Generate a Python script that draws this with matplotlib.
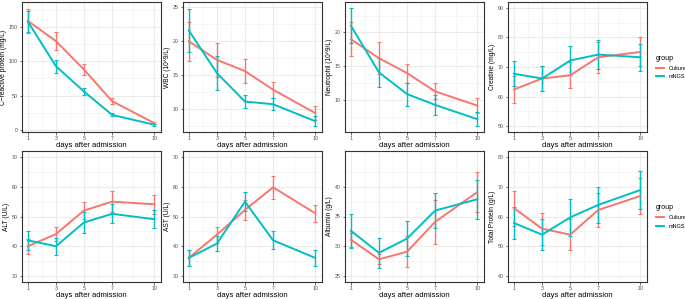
import matplotlib
matplotlib.use("Agg")
import matplotlib.pyplot as plt
from matplotlib.lines import Line2D
import numpy as np

days = [1, 3, 5, 7, 10]
groups = ["Culture", "mNGS"]
colors = {"Culture": "#F8766D", "mNGS": "#00BFC4"}

ylabels = ["C\u2212reactive protein (mg/L)", "WBC (10^9/L)", "Neutrophil (10^9/L)", "Creatine (mg/L)",
           "ALT (U/L)", "AST (U/L)", "Albumin (g/L)", "Total Protein (g/L)"]

crp_culture = [159, 129.5, 88, 42, 10]
crp_culture_err = [18, 13.5, 8, 4.5, 2]
crp_mngs = [158, 93, 56, 22, 7.6]
crp_mngs_err = [15, 9.5, 5, 2, 1.5]

wbc_culture = [20.0, 17.25, 15.6, 12.85, 9.4]
wbc_culture_err = [2.9, 2.5, 1.75, 1.2, 1.0]
wbc_mngs = [21.6, 15.3, 11.1, 10.7, 8.2]
wbc_mngs_err = [3.2, 2.5, 0.95, 0.85, 0.75]

neu_culture = [19.0, 16.2, 14.0, 11.3, 9.2]
neu_culture_err = [2.5, 2.4, 1.4, 1.2, 1.1]
neu_mngs = [21.0, 14.1, 10.9, 9.3, 7.2]
neu_mngs_err = [2.6, 2.1, 1.7, 1.45, 1.05]

cre_culture = [62.4, 66.1, 67.2, 73.3, 75.1]
cre_culture_err = [4.5, 4.2, 4.4, 5.2, 4.9]
cre_mngs = [67.7, 66.1, 72.2, 74.2, 73.3]
cre_mngs_err = [4.3, 4.3, 5.0, 4.8, 4.6]

alt_culture = [40.0, 44.1, 52.0, 55.0, 54.1]
alt_culture_err = [2.5, 2.4, 3.0, 3.6, 3.2]
alt_mngs = [42.0, 40.0, 48.0, 50.9, 49.1]
alt_mngs_err = [3.2, 2.8, 3.4, 3.2, 3.0]

ast_culture = [36.1, 43.9, 52.2, 59.8, 51.1]
ast_culture_err = [2.6, 2.7, 3.5, 3.8, 2.9]
ast_mngs = [36.1, 40.9, 55.0, 42.0, 36.1]
ast_mngs_err = [2.6, 2.4, 3.2, 3.0, 2.6]

alb_culture = [31.1, 27.8, 29.1, 34.1, 39.1]
alb_culture_err = [1.2, 0.85, 2.6, 3.75, 3.3]
alb_mngs = [32.6, 28.9, 31.3, 36.0, 37.9]
alb_mngs_err = [2.85, 2.55, 2.9, 3.0, 3.3]

tp_culture = [62.8, 55.9, 53.9, 62.2, 66.9]
tp_culture_err = [5.9, 5.4, 5.1, 5.6, 6.0]
tp_mngs = [57.8, 53.9, 59.7, 63.9, 68.9]
tp_mngs_err = [5.4, 5.2, 6.1, 6.1, 6.3]

panels = [
    (crp_culture, crp_culture_err, crp_mngs, crp_mngs_err, [0, 50, 100, 150], (-3, 186.5)),
    (wbc_culture, wbc_culture_err, wbc_mngs, wbc_mngs_err, [10, 15, 20, 25], (6.6, 25.8)),
    (neu_culture, neu_culture_err, neu_mngs, neu_mngs_err, [10, 15, 20], (5.3, 24.5)),
    (cre_culture, cre_culture_err, cre_mngs, cre_mngs_err, [50, 60, 70, 80, 90], (48, 92)),
    (alt_culture, alt_culture_err, alt_mngs, alt_mngs_err, [30, 40, 50, 60, 70], (28, 72)),
    (ast_culture, ast_culture_err, ast_mngs, ast_mngs_err, [30, 40, 50, 60, 70], (28, 72)),
    (alb_culture, alb_culture_err, alb_mngs, alb_mngs_err, [25, 30, 35, 40], (24, 46)),
    (tp_culture, tp_culture_err, tp_mngs, tp_mngs_err, [40, 50, 60, 70, 80], (38, 82)),
]

plt.rcParams["font.family"] = ["Liberation Sans", "DejaVu Sans"]

W, H = 685, 299
fig = plt.figure(figsize=(W / 100, H / 100), dpi=100)
fig.patch.set_facecolor("white")

lefts = [21.5, 182.5, 344.6, 507.7]
aw = 139.0
rows = [(2, 132), (151, 282)]

for i, (cv, ce, mv, me, yt, yl) in enumerate(panels):
    r, c = divmod(i, 4)
    top, bot = rows[r]
    ax = fig.add_axes([lefts[c] / W, 1 - bot / H, aw / W, (bot - top) / H])
    ax.set_facecolor("white")
    for vals, errs, g in [(cv, ce, "Culture"), (mv, me, "mNGS")]:
        ax.errorbar(days, vals, yerr=errs, color=colors[g], lw=1.4, elinewidth=1.0,
                    capsize=1.6, capthick=0.8, label=g, zorder=3)
    ax.set_xlim(0.55, 10.45)
    ax.set_ylim(*yl)
    ax.set_xticks(days)
    ax.set_yticks(yt)
    ax.set_xticks([2, 4, 6, 8.5], minor=True)
    ymin = [(a + b) / 2 for a, b in zip(yt[:-1], yt[1:])]
    step = yt[1] - yt[0]
    ymin = [yt[0] - step / 2] + ymin + [yt[-1] + step / 2]
    ax.set_yticks([v for v in ymin if yl[0] < v < yl[1]], minor=True)
    ax.grid(True, which="major", color="#EBEBEB", lw=0.8, zorder=0)
    ax.grid(True, which="minor", color="#F2F2F2", lw=0.5, zorder=0)
    ax.tick_params(which="major", labelsize=3.8, length=1.8, width=0.5, color="#333333",
                   labelcolor="#4D4D4D", pad=1.0)
    ax.tick_params(which="minor", length=0)
    for s in ax.spines.values():
        s.set_color("#333333")
        s.set_linewidth(0.8)
    ax.set_xlabel("days after admission", fontsize=5.5, labelpad=1.0)
    ax.set_ylabel(ylabels[i], fontsize=4.8, labelpad=1.0)
    if c == 3:
        handles = [Line2D([], [], color=colors[g], lw=1.4) for g in groups]
        leg = ax.legend(handles, groups, loc="center left", bbox_to_anchor=(1.05, 0.5), frameon=False,
                        title="group", fontsize=4.0, title_fontsize=5.0, handlelength=1.5,
                        handletextpad=0.8, labelspacing=0.7, borderaxespad=0)
        leg._legend_box.align = "left"

fig.savefig("out.png", dpi=100, facecolor="white")
